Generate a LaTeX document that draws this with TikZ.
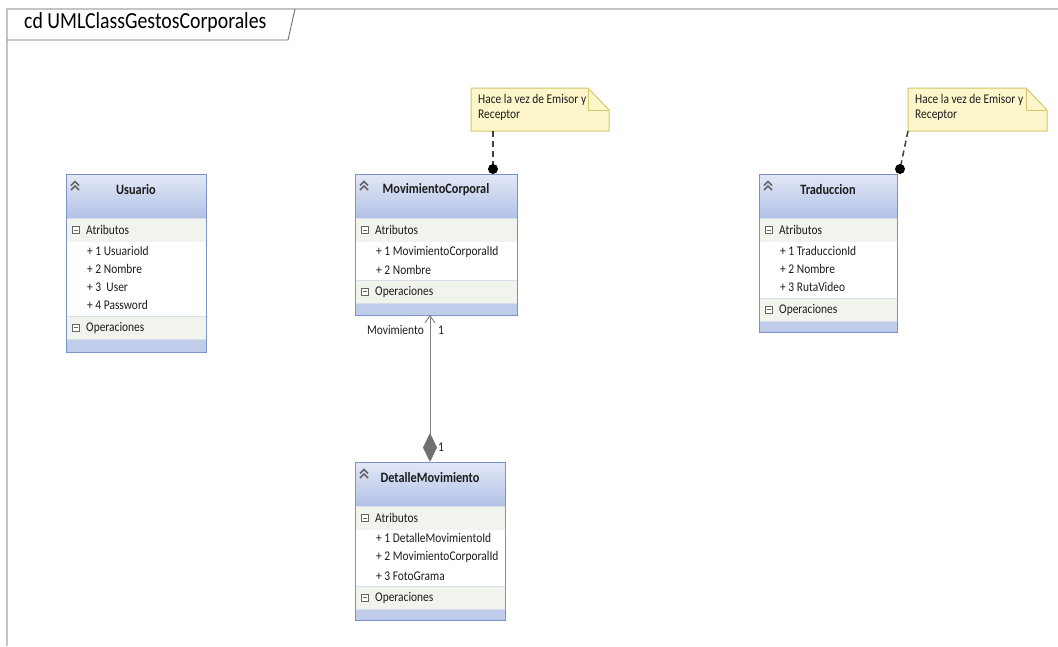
\documentclass[tikz,border=0pt]{standalone}
\usepackage{fontspec}
\setmainfont{Carlito}[FakeStretch=0.86]
\usetikzlibrary{arrows.meta}

\definecolor{framegray}{RGB}{196,196,196}
\definecolor{tabgray}{RGB}{110,110,110}
\definecolor{clsborder}{RGB}{122,146,198}
\definecolor{hdtop}{RGB}{226,232,246}
\definecolor{hdbot}{RGB}{178,193,230}
\definecolor{cmprow}{RGB}{241,244,236}
\definecolor{sepcol}{RGB}{214,222,232}
\definecolor{bandblue}{RGB}{192,205,234}
\definecolor{icongray}{RGB}{100,100,100}
\definecolor{notefill}{RGB}{252,246,202}
\definecolor{noteborder}{RGB}{214,198,108}
\definecolor{linegray}{RGB}{128,128,128}
\definecolor{diamgray}{RGB}{112,112,112}
\definecolor{txt}{RGB}{28,28,28}

\tikzset{
  frameline/.style={draw=framegray, line width=1.6},
  tabline/.style={draw=tabgray, line width=0.9},
  clsframe/.style={draw=clsborder, line width=1, inner sep=0, outer sep=0},
  sepline/.style={draw=sepcol, line width=0.8},
  clsname/.style={font=\bfseries\fontsize{14.3}{16}\selectfont, text=txt, inner sep=0},
  rowtext/.style={font=\fontsize{13.3}{15}\selectfont, text=txt, anchor=west, inner sep=0},
  notebody/.style={inner sep=0, outer sep=0},
  notetext/.style={font=\fontsize{13.3}{15}\selectfont, text=txt, anchor=north west,
                   align=left, inner sep=0},
  notelink/.style={draw=black!75, line width=1.5, dash pattern=on 6pt off 4pt},
  assoc/.style={draw=linegray, line width=0.9},
  lbl/.style={font=\fontsize{13.3}{15}\selectfont, text=txt, inner sep=0},
}

% double chevron that collapses a class
\newcommand\chevrons[2]{%
  \draw[icongray, line width=1.5] (#1-4,#2-0.5) -- (#1,#2-4.5) -- (#1+4,#2-0.5);
  \draw[icongray, line width=1.5] (#1-4,#2+4) -- (#1,#2) -- (#1+4,#2+4);
}
% boxed minus in front of a compartment heading
\newcommand\minusbox[2]{%
  \draw[icongray, fill=white, line width=0.7] (#1-3.5,#2-3.5) rectangle (#1+3.5,#2+3.5);
  \draw[icongray, line width=0.8] (#1-2,#2) -- (#1+2,#2);
}
% class: name, left, top, right, bottom, top of "Operaciones" row, title
\newcommand\classbox[7]{%
  \fill[top color=hdtop, bottom color=hdbot] (#2,#3) rectangle (#4,#3+44);
  \fill[cmprow] (#2,#3+44) rectangle (#4,#3+68);
  \fill[white] (#2,#3+68) rectangle (#4,#6);
  \fill[cmprow] (#2,#6) rectangle (#4,#6+23);
  \fill[bandblue] (#2,#6+23) rectangle (#4,#5);
  \draw[sepline] (#2,#3+44) -- (#4,#3+44);
  \draw[sepline] (#2,#6) -- (#4,#6);
  \draw[sepline] (#2,#6+23) -- (#4,#6+23);
  \pgfmathsetlengthmacro\clsw{(#4-#2)*1pt}%
  \pgfmathsetlengthmacro\clsh{(#5-#3)*1pt}%
  \node[clsframe, minimum width=\clsw, minimum height=\clsh, anchor=north west] (#1) at (#2,#3) {};
  \node[clsname] (#1-title) at ({(#2+#4)/2},#3+16) {#7};
  \chevrons{#2+9}{#3+12}
  \minusbox{#2+9.5}{#3+56}
  \node[rowtext] (#1-atr) at (#2+20,#3+56) {Atributos};
  \minusbox{#2+9.5}{#6+11.5}
  \node[rowtext] (#1-ops) at (#2+20,#6+11.5) {Operaciones};
}
% note with folded corner: name, left, top, right, bottom
\newcommand\notebox[5]{%
  \pgfmathsetlengthmacro\notew{(#4-#2)*1pt}%
  \pgfmathsetlengthmacro\noteh{(#5-#3)*1pt}%
  \draw[noteborder, fill=notefill, line width=1]
    (#2,#3) -- (#4-21,#3) -- (#4,#3+22) -- (#4,#5) -- (#2,#5) -- cycle;
  \draw[noteborder, line width=1] (#4-21,#3) -- (#4-21,#3+22) -- (#4,#3+22);
  \node[notebody, minimum width=\notew, minimum height=\noteh, anchor=north west] (#1) at (#2,#3) {};
  \node[notetext] (#1-text) at (#2+7,#3+6) {Hace la vez de Emisor y\\Receptor};
}

\begin{document}
\begin{tikzpicture}[x=1pt, y=-1pt]
  \useasboundingbox (0,0) rectangle (1058,646);
  \fill[white] (0,0) rectangle (1058,646);

  % diagram frame and its name tab
  \draw[frameline] (7,646) -- (7,9) -- (1058,9);
  \draw[tabline] (7,40) -- (288,40) -- (295,9);
  \node[font=\fontsize{23}{25}\selectfont, text=black, anchor=west, inner sep=0] (frametitle)
    at (24,22) {cd UMLClassGestosCorporales};

  % classes
  \classbox{us}{66}{174}{206}{352}{316}{Usuario}
  \node[rowtext] (us-a1) at (87,251) {+ 1 UsuarioId};
  \node[rowtext] (us-a2) at (87,269) {+ 2 Nombre};
  \node[rowtext] (us-a3) at (87,287) {+ 3~ User};
  \node[rowtext] (us-a4) at (87,305) {+ 4 Password};

  \classbox{mc}{355}{174}{517}{315}{280}{MovimientoCorporal}
  \node[rowtext] (mc-a1) at (376,252) {+ 1 MovimientoCorporalId};
  \node[rowtext] (mc-a2) at (376,270) {+ 2 Nombre};

  \classbox{tr}{759}{174}{897}{332}{298}{Traduccion}
  \node[rowtext] (tr-a1) at (780,251) {+ 1 TraduccionId};
  \node[rowtext] (tr-a2) at (780,269) {+ 2 Nombre};
  \node[rowtext] (tr-a3) at (780,287) {+ 3 RutaVideo};

  \classbox{dm}{355}{462}{505}{620}{586}{DetalleMovimiento}
  \node[rowtext] (dm-a1) at (376,538) {+ 1 DetalleMovimientoId};
  \node[rowtext] (dm-a2) at (376,557) {+ 2 MovimientoCorporalId};
  \node[rowtext] (dm-a3) at (376,576) {+ 3 FotoGrama};

  % notes and their links
  \notebox{n1}{471}{88}{609}{131}
  \notebox{n2}{908}{88}{1047}{131}
  \coordinate (d1) at (493,169);
  \coordinate (d2) at (900,169);
  \draw[notelink] (n1.south -| d1) -- (d1);
  \draw[notelink] (n2.south west) -- (d2);
  \fill[black] (d1) circle (5);
  \fill[black] (d2) circle (5);

  % composition DetalleMovimiento -> MovimientoCorporal
  \draw[assoc, {Diamond[length=29pt, width=14pt, fill=diamgray, color=diamgray]}-{Straight Barb[length=7pt, width=10pt, line width=0.9pt]}]
    (dm.north) -- (dm.north |- mc.south);
  \node[lbl, anchor=east] (lblmov) at (424,330) {Movimiento};
  \node[lbl, anchor=west] (lblone1) at (438,330) {1};
  \node[lbl, anchor=west] (lblone2) at (438,447) {1};
\end{tikzpicture}
\end{document}
